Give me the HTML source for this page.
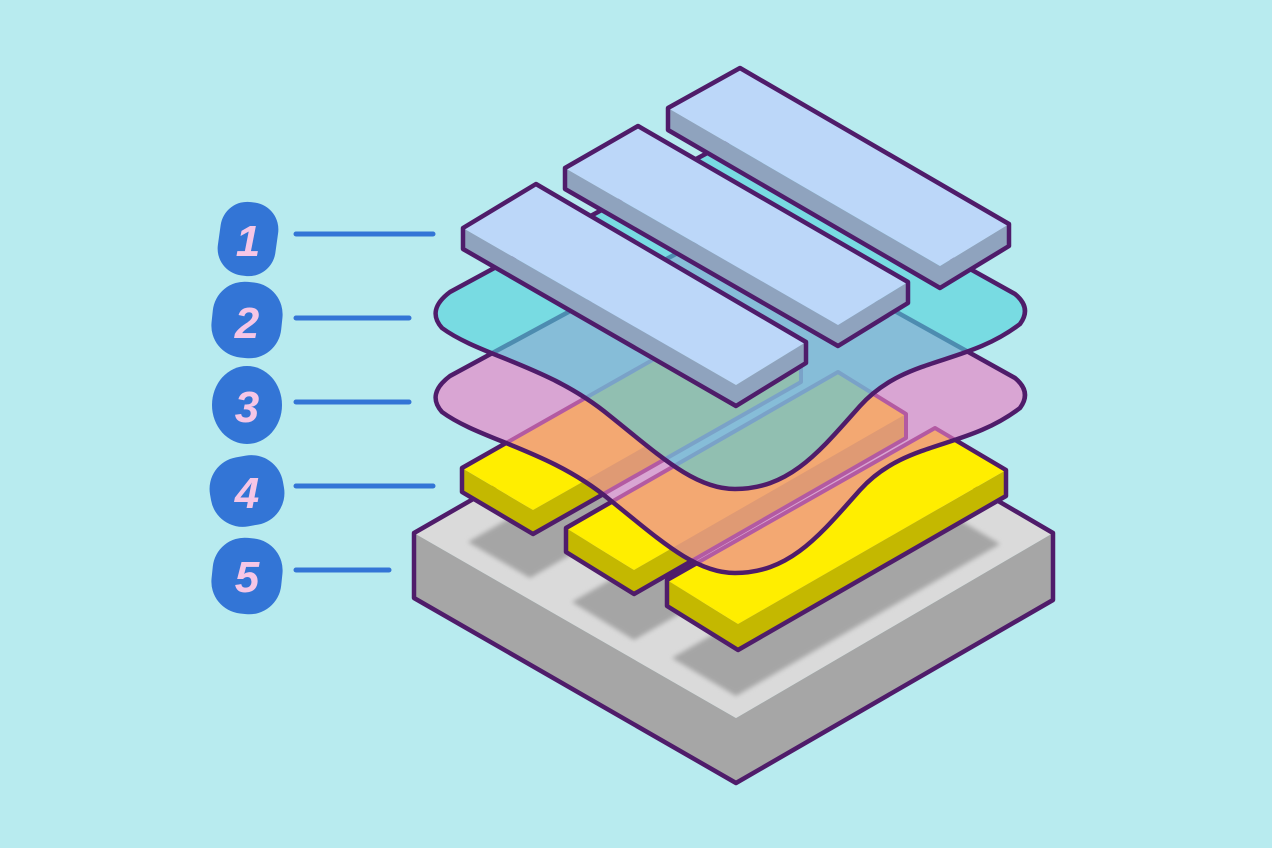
<!DOCTYPE html>
<html><head><meta charset="utf-8"><style>
html,body{margin:0;padding:0;background:#b8ebef;}
svg{display:block}
</style></head><body>
<svg width="1272" height="848" viewBox="0 0 1272 848" xmlns="http://www.w3.org/2000/svg">
<defs>
<filter id="bl" x="-10%" y="-10%" width="120%" height="120%"><feGaussianBlur stdDeviation="2.5"/></filter>
<clipPath id="topc"><polygon points="414,533 736,348 1053,533 736,718"/></clipPath>
<path id="pinkP" d="M450,376 L735,222 L1015,378 Q1032,392 1020,408 C965,450 905,440 860,490 C820,535 790,573 735,573 C695,573 660,540 610,500 C550,450 480,440 442,412 Q426,394 450,376 Z"/>
<path id="cyanP" d="M450,292 L735,138 L1015,294 Q1032,308 1020,324 C965,366 905,356 860,406 C820,451 790,489 735,489 C695,489 660,456 610,416 C550,366 480,356 442,328 Q426,310 450,292 Z"/>
<clipPath id="pinkC"><use href="#pinkP"/></clipPath>
<clipPath id="cyanC"><use href="#cyanP"/></clipPath>
<g id="stripTops">
<polygon points="462,468 730,316 801,358 801,382 533,534 462,492"/>
<polygon points="566,528 838,372 906,414 906,438 634,594 566,552"/>
<polygon points="667,580 935,428 1006,470 1006,496 738,650 667,606"/>
</g>
</defs>
<rect width="1272" height="848" fill="#b8ebef"/>

<!-- labels -->
<g stroke="#3375d6" stroke-width="5" stroke-linecap="round">
<line x1="296" y1="234" x2="433" y2="234"/>
<line x1="296" y1="318" x2="409" y2="318"/>
<line x1="296" y1="402" x2="409" y2="402"/>
<line x1="296" y1="486" x2="433" y2="486"/>
<line x1="296" y1="570" x2="389" y2="570"/>
</g>
<g fill="#3375d6">
<rect x="219" y="202" width="58" height="74" rx="27" transform="rotate(8 248 239)"/>
<rect x="212" y="282" width="70" height="76" rx="32" transform="rotate(6 247 320)"/>
<ellipse cx="247" cy="405" rx="35" ry="39"/>
<rect x="210" y="456" width="74" height="70" rx="32" transform="rotate(-10 247 491)"/>
<rect x="212" y="538" width="70" height="76" rx="32" transform="rotate(6 247 576)"/>
</g>
<g fill="#f6c6e6" font-family="Liberation Sans, sans-serif" font-weight="bold" font-style="italic" font-size="44" text-anchor="middle">
<text x="248" y="256">1</text>
<text x="247" y="338">2</text>
<text x="247" y="422">3</text>
<text x="247" y="508">4</text>
<text x="247" y="592">5</text>
</g>

<!-- base -->
<g stroke-linejoin="round">
<polygon points="414,533 736,718 736,783 414,598" fill="#a6a6a6"/>
<polygon points="736,718 1053,533 1053,600 736,783" fill="#a6a6a6"/>
<polygon points="414,533 736,348 1053,533 736,718" fill="#dadada"/>
<g clip-path="url(#topc)" filter="url(#bl)" fill="#a5a5a5">
<polygon points="468,542 530,578 820,412 758,376"/>
<polygon points="572,602 634,640 930,470 868,432"/>
<polygon points="672,658 736,696 1000,544 936,506"/>
</g>
<polygon points="414,533 736,348 1053,533 1053,600 736,783 414,598" fill="none" stroke="#4f1c6a" stroke-width="4.5"/>
</g>

<!-- layer 4 yellow strips -->
<g stroke="#4f1c6a" stroke-width="4.5" stroke-linejoin="round">
<polygon points="462,468 533,510 533,534 462,492" fill="#c4b800" stroke="none"/>
<polygon points="533,510 801,358 801,382 533,534" fill="#c4b800" stroke="none"/>
<polygon points="462,468 730,316 801,358 533,510" fill="#ffee00" stroke="none"/>
<polygon points="566,528 634,570 634,594 566,552" fill="#c4b800" stroke="none"/>
<polygon points="634,570 906,414 906,438 634,594" fill="#c4b800" stroke="none"/>
<polygon points="566,528 838,372 906,414 634,570" fill="#ffee00" stroke="none"/>
<polygon points="667,580 738,624 738,650 667,606" fill="#c4b800" stroke="none"/>
<polygon points="738,624 1006,470 1006,496 738,650" fill="#c4b800" stroke="none"/>
<polygon points="667,580 935,428 1006,470 738,624" fill="#ffee00" stroke="none"/>
<use href="#stripTops" fill="none"/>
</g>

<!-- layer 3 pink -->
<use href="#pinkP" fill="#d9a5d3"/>
<g clip-path="url(#pinkC)">
<use href="#stripTops" fill="#f3a872"/>
<polygon points="533,510 801,358 801,382 533,534" fill="#df9a74"/>
<polygon points="634,570 906,414 906,438 634,594" fill="#df9a74"/>
<polygon points="738,624 1006,470 1006,496 738,650" fill="#df9a74"/>
<use href="#stripTops" fill="none" stroke="#b35aa2" stroke-width="4" stroke-linejoin="round"/>
</g>
<use href="#pinkP" fill="none" stroke="#4f1c6a" stroke-width="4.5" stroke-linejoin="round"/>

<!-- layer 2 cyan -->
<use href="#cyanP" fill="#78dbe2"/>
<g clip-path="url(#cyanC)">
<use href="#pinkP" fill="#86bdd8"/>
<g clip-path="url(#pinkC)">
<use href="#stripTops" fill="#91bfb1"/>
<use href="#stripTops" fill="none" stroke="#7aa2c8" stroke-width="4" stroke-linejoin="round"/>
</g>
<use href="#pinkP" fill="none" stroke="#4d8cb0" stroke-width="4.5" stroke-linejoin="round"/>
</g>
<use href="#cyanP" fill="none" stroke="#4f1c6a" stroke-width="4.5" stroke-linejoin="round"/>

<!-- layer 1 bars -->
<g stroke-linejoin="round">
<g>
<polygon points="463,228 736,385 736,406 463,249" fill="#8fa3be"/>
<polygon points="736,385 806,342 806,363 736,406" fill="#8fa3be"/>
<polygon points="463,228 536,184 806,342 736,385" fill="#bcd7f9"/>
<polygon points="463,228 536,184 806,342 806,363 736,406 463,249" fill="none" stroke="#4f1c6a" stroke-width="4.5"/>
</g>
<g>
<polygon points="565,168 838,325 838,346 565,189" fill="#8fa3be"/>
<polygon points="838,325 908,282 908,303 838,346" fill="#8fa3be"/>
<polygon points="565,168 638,126 908,282 838,325" fill="#bcd7f9"/>
<polygon points="565,168 638,126 908,282 908,303 838,346 565,189" fill="none" stroke="#4f1c6a" stroke-width="4.5"/>
</g>
<g>
<polygon points="668,108 940,266 940,288 668,130" fill="#8fa3be"/>
<polygon points="940,266 1009,224 1009,246 940,288" fill="#8fa3be"/>
<polygon points="668,108 740,68 1009,224 940,266" fill="#bcd7f9"/>
<polygon points="668,108 740,68 1009,224 1009,246 940,288 668,130" fill="none" stroke="#4f1c6a" stroke-width="4.5"/>
</g>
</g>
</svg>
</body></html>
